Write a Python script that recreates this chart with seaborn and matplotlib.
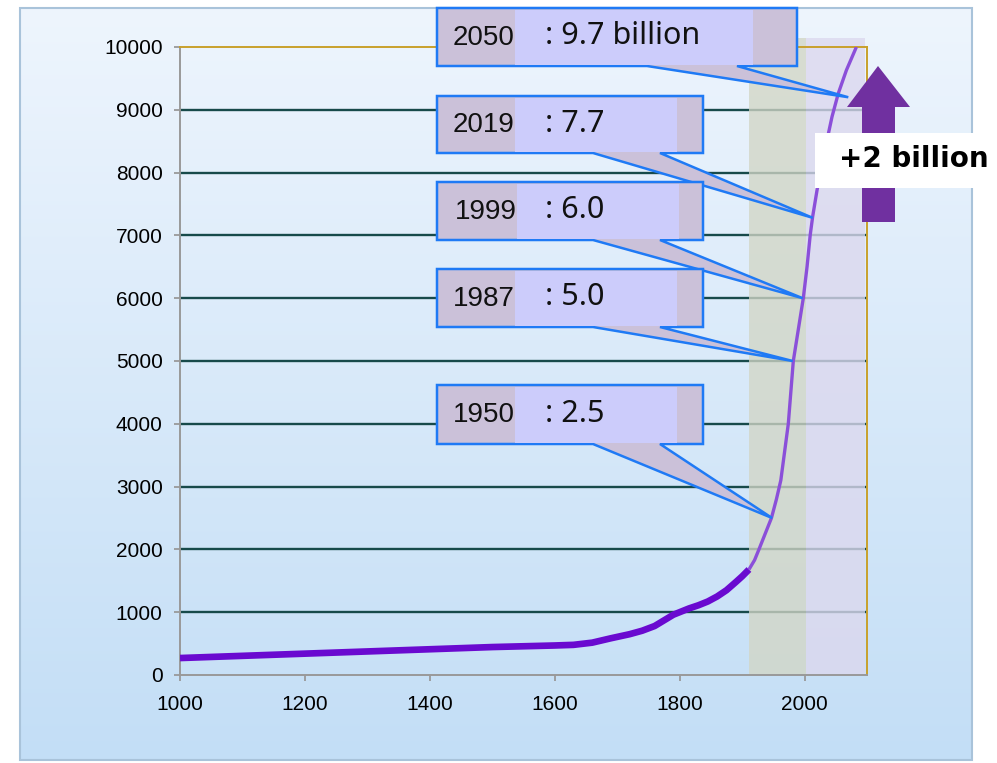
import numpy as np
import pandas as pd
import matplotlib
matplotlib.use("Agg")
import matplotlib.pyplot as plt
import seaborn as sns
from matplotlib.patches import Polygon, Rectangle

# ---------------- data ----------------
years = [1000, 1100, 1200, 1300, 1400, 1500, 1560, 1600, 1630, 1660, 1690,
         1720, 1740, 1760, 1775, 1790, 1800, 1815, 1830, 1845, 1860, 1875,
         1890, 1900, 1911, 1920, 1927, 1937, 1947, 1955, 1962, 1968, 1974,
         1982, 1990, 1998, 2004, 2009, 2013, 2020, 2028, 2036, 2044, 2054,
         2067, 2083]
population = [270, 305, 340, 375, 410, 445, 460, 470, 480, 515, 585,
              650, 705, 780, 870, 960, 1000, 1060, 1110, 1170, 1250, 1350,
              1480, 1570, 1680, 1830, 2000, 2250, 2500, 2800, 3100, 3550, 4000,
              5000, 5500, 6000, 6500, 7000, 7300, 7720, 8150, 8520, 8890, 9260,
              9630, 10000]
history_end = 1911

xtick_values = [1000, 1200, 1400, 1600, 1800, 2000]
ytick_values = [0, 1000, 2000, 3000, 4000, 5000, 6000, 7000, 8000, 9000, 10000]

band_starts = [1911, 2002]
band_ends = [2002, 2096]
band_colors = ["#d2d6c6", "#dcd8ee"]

callout_years = ["2050", "2019", "1999:", "1987", "1950"]
callout_values = [": 9.7 billion", ": 7.7", ": 6.0", ": 5.0", ": 2.5"]
callout_tip_x = [2070, 2013, 1997, 1981, 1948]
callout_tip_y = [9200, 7280, 6000, 5000, 2500]

growth_label = "+2 billion"

SANS = ["Liberation Sans", "DejaVu Sans"]

# ---------------- figure ----------------
W, H = 997, 763
fig = plt.figure(figsize=(W / 100, H / 100), dpi=100)
fig.patch.set_facecolor("white")

# background panel with gradient
bg = fig.add_axes([0, 0, 1, 1], zorder=0)
bg.set_xlim(0, W)
bg.set_ylim(H, 0)
bg.axis("off")
top_c = np.array([0xee, 0xf5, 0xfd]) / 255
bot_c = np.array([0xc3, 0xde, 0xf6]) / 255
t = np.linspace(0, 1, 256)[:, None]
grad = (top_c[None, :] * (1 - t) + bot_c[None, :] * t)[:, None, :]
bg.imshow(grad, extent=[20, 972, 760, 8], aspect="auto", zorder=0)
bg.add_patch(Rectangle((20, 8), 952, 752, fill=False, edgecolor="#a9c3da", lw=1.5, zorder=1))

# main axes
left, right, top, bottom = 180, 867, 47, 675
ax = fig.add_axes([left / W, 1 - bottom / H, (right - left) / W, (bottom - top) / H], zorder=1)
ax.set_facecolor("none")
ax.set_xlim(1000, 2100)
ax.set_ylim(0, 10000)

df = pd.DataFrame({"year": years, "population": population})
hist = df[df["year"] <= history_end]
proj = df[df["year"] >= history_end]

# gridlines
for v in ytick_values[1:-1]:
    ax.axhline(v, color="#174a4a", lw=1.7, zorder=1)

# shaded periods
for s, e, c in zip(band_starts, band_ends, band_colors):
    ax.axvspan(s, e, ymin=0, ymax=1.015, color=c, alpha=0.78, lw=0, zorder=2, clip_on=False)

sns.lineplot(data=hist, x="year", y="population", ax=ax, color="#6a0ad0",
             lw=4.8, estimator=None, sort=True, zorder=3, solid_capstyle="butt",
             solid_joinstyle="round")
sns.lineplot(data=proj, x="year", y="population", ax=ax, color="#8b4fd9",
             lw=2.4, estimator=None, sort=True, zorder=3, solid_capstyle="butt",
             solid_joinstyle="round")

ax.set_xlabel("")
ax.set_ylabel("")
ax.set_xticks(xtick_values)
ax.set_yticks(ytick_values)
ax.set_xticklabels([str(v) for v in xtick_values], fontfamily=SANS, fontsize=15)
ax.set_yticklabels([str(v) for v in ytick_values], fontfamily=SANS, fontsize=15)
ax.tick_params(axis="both", direction="out", length=4.5, width=1.3, color="#999999")
ax.tick_params(axis="y", pad=8)
ax.tick_params(axis="x", pad=10)
for side in ["left", "bottom"]:
    ax.spines[side].set_color("#999999")
    ax.spines[side].set_linewidth(1.4)
for side in ["top", "right"]:
    ax.spines[side].set_color("#c9a02c")
    ax.spines[side].set_linewidth(1.4)
for sp in ax.spines.values():
    sp.set_zorder(2.5)

# overlay for callouts (pixel coordinates, origin top-left)
ov = fig.add_axes([0, 0, 1, 1], zorder=2)
ov.set_xlim(0, W)
ov.set_ylim(H, 0)
ov.axis("off")
ov.set_facecolor("none")


def data_to_px(x, y):
    dx, dy = ax.transData.transform((x, y))
    return dx, H - dy


boxes = [(437, 8, 797, 66), (437, 96, 703, 153), (437, 182, 703, 240),
         (437, 269, 703, 327), (437, 385, 703, 444)]
inner_right = [753, 677, 679, 677, 677]
inner_left = [515, 515, 517, 515, 515]
tail_bases = [(647, 737), (593, 660), (593, 660), (593, 660), (593, 660)]
edge_blue = "#1f7af5"
mauve = "#cbc1d9"
lav = "#ccccfb"

for i in range(len(callout_years)):
    x0, y0, x1, y1 = boxes[i]
    tx, ty = data_to_px(callout_tip_x[i], callout_tip_y[i])
    b0, b1 = tail_bases[i]
    pts = [(x0, y0), (x1, y0), (x1, y1), (b1, y1), (tx, ty), (b0, y1), (x0, y1)]
    ov.add_patch(Polygon(pts, closed=True, facecolor=mauve, edgecolor=edge_blue,
                         lw=1.8, joinstyle="miter", zorder=5))
    ov.text(x0 + 16 + (2 if i == 2 else 0), (y0 + y1) / 2 + 1, callout_years[i],
            fontfamily=SANS, fontsize=20, color="#111111", va="center", ha="left", zorder=6)
    ov.add_patch(Rectangle((inner_left[i], y0 + 1.5), inner_right[i] - inner_left[i], (y1 - y0) - 3,
                           facecolor=lav, edgecolor="none", zorder=7))
    ov.text(545, (y0 + y1) / 2 - 1, callout_values[i], fontfamily="Noto Sans",
            fontsize=22, color="#111111", va="center", ha="left", zorder=8)

# growth arrow
arrow_pts = [(862, 222), (862, 107), (847, 107), (878, 66), (910, 107), (895, 107), (895, 222)]
ov.add_patch(Polygon(arrow_pts, closed=True, facecolor="#7030a0", edgecolor="none", zorder=5))

ov.add_patch(Rectangle((815, 133), 182, 55, facecolor="white", edgecolor="none", zorder=6))
ov.text(839, 159, growth_label, fontfamily="DejaVu Sans", fontweight="bold", fontsize=20,
        color="black", va="center", ha="left", zorder=7)

fig.savefig("out.png", dpi=100)
